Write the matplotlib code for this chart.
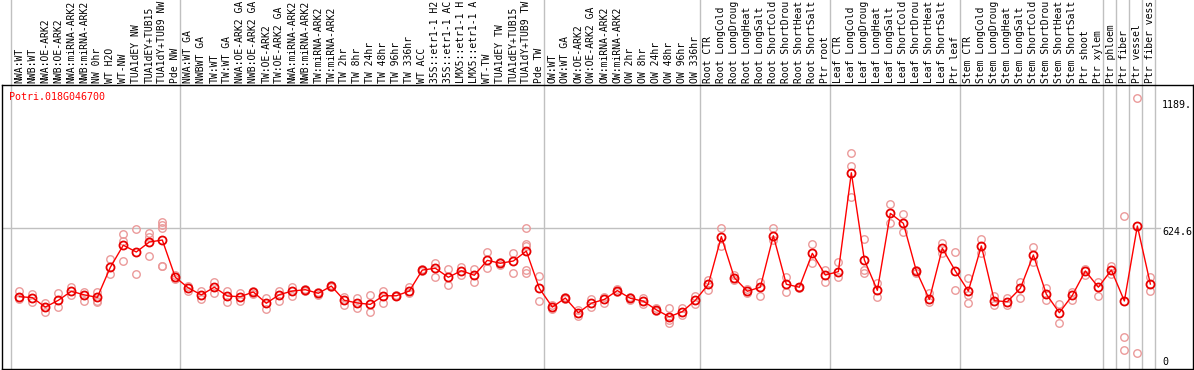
import numpy as np
import matplotlib
matplotlib.use("Agg")
import matplotlib.pyplot as plt

gene = "Potri.018G046700"

labels = ["NWA:WT", "NWB:WT", "NWA:OE-ARK2", "NWB:OE-ARK2", "NWA:miRNA-ARK2", "NWB:miRNA-ARK2",
          "NW 0hr", "WT H2O", "WT-NW", "TUA1dEY NW", "TUA1dEY+TUB15", "TUA1dY+TUB9 NW", "Pde NW",
          "NWA:WT GA", "NWBWT GA", "TW:WT", "TW:WT GA", "NWA:OE-ARK2 GA", "NWB:OE-ARK2 GA",
          "TW:OE-ARK2", "TW:OE-ARK2 GA", "NWA:miRNA-ARK2", "NWB:miRNA-ARK2", "TW:miRNA-ARK2",
          "TW:miRNA-ARK2", "TW 2hr", "TW 8hr", "TW 24hr", "TW 48hr", "TW 96hr", "TW 336hr", "WT ACC",
          "35S::etr1-1 H2", "35S::etr1-1 AC", "LMX5::etr1-1 H", "LMX5::etr1-1 A", "WT-TW",
          "TUA1dEY TW", "TUA1dEY+TUB15", "TUA1dY+TUB9 TW", "Pde TW",
          "OW:WT", "OW:WT GA", "OW:OE-ARK2", "OW:OE-ARK2 GA", "OW:miRNA-ARK2", "OW:miRNA-ARK2",
          "OW 2hr", "OW 8hr", "OW 24hr", "OW 48hr", "OW 96hr", "OW 336hr",
          "Root CTR", "Root LongCold", "Root LongDroug", "Root LongHeat", "Root LongSalt",
          "Root ShortCold", "Root ShortDrou", "Root ShortHeat", "Root ShortSalt", "Ptr root",
          "Leaf CTR", "Leaf LongCold", "Leaf LongDroug", "Leaf LongHeat", "Leaf LongSalt",
          "Leaf ShortCold", "Leaf ShortDrou", "Leaf ShortHeat", "Leaf ShortSalt", "Ptr leaf",
          "Stem CTR", "Stem LongCold", "Stem LongDroug", "Stem LongHeat", "Stem LongSalt",
          "Stem ShortCold", "Stem ShortDrou", "Stem ShortHeat", "Stem ShortSalt", "Ptr shoot",
          "Ptr xylem", "Ptr phloem", "Ptr fiber", "Ptr vessel", "Ptr fiber vess"]

# group boundaries (index of first sample of each group)
group_starts = [0, 13, 41, 53, 63, 73, 84, 85, 86, 87, 88]

means = [319, 315, 273, 303, 343, 327, 316, 449, 547, 517, 561, 570, 405,
         358, 327, 361, 322, 319, 340, 290, 328, 344, 350, 334, 366, 303, 291, 285, 323,
         323, 344, 437, 445, 405, 434, 414, 480, 467, 477, 521, 356,
         273, 313, 248, 290, 307, 346, 312, 299, 261, 230, 253,
         303, 374, 585, 403, 343, 361, 589, 374, 361, 511,
         415, 430, 868, 482, 347, 688, 644, 433, 307, 533,
         433, 344, 544, 301, 297, 356, 504, 330, 248, 325, 433, 361,
         437, 300, 632, 375]

reps = [[344, 307], [332, 296], [292, 253], [334, 272], [363, 325], [341, 301],
        [341, 301, 297], [485, 418], [595, 566, 477], [618, 420], [600, 585, 499],
        [649, 637, 625, 455, 455], [415, 397],
        [366, 346], [346, 309], [385, 334], [346, 297], [337, 301], [344, 332],
        [313, 266], [346, 301], [363, 322], [353, 344], [340, 328], [369, 363],
        [316, 282], [313, 270], [325, 250], [344, 290],
        [327, 320], [363, 337], [440, 434], [467, 408], [442, 369], [449, 415],
        [442, 385], [517, 447], [471, 461], [511, 423], [622, 552, 544, 437, 423],
        [409, 300],
        [282, 263], [319, 307], [260, 233], [309, 272], [319, 292], [351, 340],
        [319, 304], [315, 285], [268, 256], [269, 216, 201], [269, 238],
        [323, 285], [393, 349], [622, 545], [415, 393], [352, 334], [385, 323],
        [622, 570], [408, 338], [363, 356], [552, 470],
        [437, 383], [474, 408], [954, 898, 759], [575, 437, 425], [378, 319],
        [728, 647], [684, 607], [437, 425], [334, 297], [556, 511],
        [516, 349], [400, 327, 292], [575, 511], [322, 282], [312, 282],
        [385, 312], [538, 474], [356, 304], [287, 204], [341, 304], [442, 415],
        [385, 322], [456, 420], [676, 139, 83], [1198, 68], [408, 346]]

ytick_labels = ["1189.", "624.6", "0"]
grid_value = 624.6

plt.rcParams['font.family'] = ['DejaVu Sans Mono']

W, H = 1194, 370
fig = plt.figure(figsize=(W / 100, H / 100), dpi=100)
ax = fig.add_axes([1.5 / W, 1.3 / H, 1191.5 / W, 283.7 / H])
ax.set_xlim(-1.369, 90.28)
ax.set_ylim(0, 1256.7)
ax.set_xticks([])
ax.set_yticks([])
for s in ax.spines.values():
    s.set_linewidth(1.0)
    s.set_color('black')

x = np.arange(len(means))

# group separators extend up through the label area
for g in group_starts:
    ax.axvline(g - 0.64, ymin=0, ymax=1.31, color='#c0c0c0', lw=1.0, clip_on=False, zorder=1)
ax.plot([-1.369, 87.75], [grid_value, grid_value], color='#c0c0c0', lw=1.0, zorder=1)

# replicates
for i, r in enumerate(reps):
    ax.plot([i] * len(r), r, 'o', ms=5.4, mfc='none', mec='#eb9a9a', mew=1.0, zorder=2, clip_on=False)

# mean line
ax.plot(x, means, '-', color='red', lw=1.0, zorder=3)
ax.plot(x, means, 'o', ms=5.8, mfc='none', mec='#e80000', mew=1.3, zorder=4)

# sample labels
for i, lab in enumerate(labels):
    ax.text(i, 1 + 2.0 / 283.7, lab, rotation=90, ha='center', va='bottom', fontsize=7.0,
            transform=ax.get_xaxis_transform(), clip_on=False)

ax.text(7.5 / 1191.5, 1 - 12 / 283.7, gene, color='red', fontsize=7.2, ha='left', va='center',
        transform=ax.transAxes)

# y labels on the right (positions in pixels from the top)
for lab, ypix in zip(ytick_labels, [105, 232, 362]):
    fig.text(1162 / W, 1 - ypix / H, lab, fontsize=7.2, ha='left', va='center')

fig.savefig("out.png", dpi=100)
